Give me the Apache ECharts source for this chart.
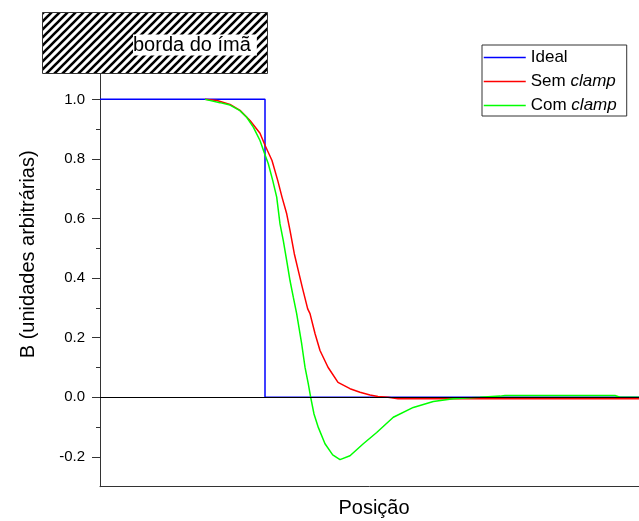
<!DOCTYPE html>
<html>
<head>
<meta charset="utf-8">
<script src="https://cdn.jsdelivr.net/npm/echarts@6/dist/echarts.min.js"></script>
<style>
html,body{margin:0;padding:0;background:#fff;}
#chart{width:639px;height:521px;}
</style>
</head>
<body>
<div id="chart"></div>
<script>
// Series names
const seriesNames = ['Ideal', 'Sem clamp', 'Com clamp'];
// Ideal step profile [position, B]
const idealData = [[0, 1.0], [165, 1.0], [165, 0.0], [539, 0.0]];
// Without clamp
const semClampData = [
  [105, 1.0], [117, 0.996], [130, 0.983], [140, 0.963], [150, 0.929], [160, 0.886],
  [165, 0.846], [172, 0.795], [177.7, 0.728], [182, 0.672], [186.7, 0.616], [190, 0.560],
  [194.3, 0.482], [198.3, 0.425], [202.3, 0.369], [207.7, 0.297], [210, 0.281],
  [215, 0.214], [220, 0.157], [228, 0.101], [238, 0.050], [250, 0.029], [260, 0.017],
  [270, 0.008], [278, 0.003], [288, 0.0], [298, -0.005], [539, -0.005]
];
// With clamp
const comClampData = [
  [105, 1.0], [120, 0.989], [130, 0.981], [140, 0.962], [146.7, 0.940], [153.3, 0.907],
  [160, 0.862], [164, 0.823], [168.3, 0.784], [172.7, 0.728], [176.7, 0.672], [180, 0.582],
  [183.3, 0.526], [186.7, 0.459], [190, 0.392], [193.3, 0.336], [195.7, 0.297],
  [196.7, 0.280], [201.7, 0.179], [205, 0.101], [208.3, 0.045], [210.7, 0.0],
  [214, -0.056], [218.3, -0.101], [225, -0.156], [232.7, -0.193], [240, -0.209],
  [250, -0.196], [263.3, -0.156], [276.7, -0.118], [293.3, -0.067], [313.3, -0.034],
  [333.3, -0.014], [353.3, -0.005], [366.7, -0.002], [380, 0.0], [400, 0.004],
  [405, 0.006], [515, 0.006], [520, 0.0], [539, 0.0]
];
// Y tick labels / ticks
const majorTicks = [-0.2, 0.0, 0.2, 0.4, 0.6, 0.8, 1.0];
const minorTicks = [-0.1, 0.1, 0.3, 0.5, 0.7, 0.9];
const xLabel = 'Posição';
const yLabel = 'B (unidades arbitrárias)';
const boxLabel = 'borda do ímã';

const FONT = '"Liberation Sans", Arial, sans-serif';

// hatch pattern
const pat = document.createElement('canvas');
pat.width = 8; pat.height = 8;
const pc = pat.getContext('2d');
pc.fillStyle = '#fff'; pc.fillRect(0, 0, 8, 8);
pc.strokeStyle = '#000'; pc.lineWidth = 2.6;
pc.beginPath();
pc.moveTo(-1, 9); pc.lineTo(9, -1);
pc.moveTo(-1, 1); pc.lineTo(1, -1);
pc.moveTo(7, 9); pc.lineTo(9, 7);
pc.stroke();

const chart = echarts.init(document.getElementById('chart'), null, {renderer: 'canvas'});
chart.setOption({
  animation: false,
  backgroundColor: '#fff',
  grid: {left: 100, right: 0, top: 21.9, bottom: 34.3, containLabel: false, outerBoundsMode: 'none'},
  legend: {
    data: seriesNames,
    orient: 'vertical',
    left: 482, top: 45,
    borderColor: '#333', borderWidth: 1,
    padding: [4, 10, 2, 1],
    itemGap: 7, itemWidth: 42, itemHeight: 14,
    itemStyle: {opacity: 0, borderWidth: 0},
    lineStyle: {width: 1.5},
    textStyle: {fontSize: 17, color: '#000', fontFamily: FONT,
      rich: {i: {fontSize: 17, fontStyle: 'italic', color: '#000', fontFamily: FONT}}},
    formatter: function (n) {
      return n.replace('clamp', '{i|clamp}');
    }
  },
  xAxis: {
    type: 'value', min: 0, max: 539,
    name: xLabel, nameLocation: 'middle', nameGap: 12,
    nameTextStyle: {fontSize: 20, color: '#000', fontFamily: FONT, padding: [0, 0, 0, 9]},
    axisLine: {onZero: false, lineStyle: {color: '#333', width: 1}},
    axisTick: {show: false}, axisLabel: {show: false}, splitLine: {show: false}
  },
  yAxis: [{
    type: 'value', min: -0.3, max: 1.26,
    name: yLabel, nameLocation: 'middle', nameGap: 62,
    nameTextStyle: {fontSize: 20, color: '#000', fontFamily: FONT},
    axisLine: {lineStyle: {color: '#333', width: 1}},
    axisTick: {show: true, length: 8, customValues: majorTicks, lineStyle: {color: '#333'}},
    axisLabel: {customValues: majorTicks, margin: 15, fontSize: 15, color: '#000', fontFamily: FONT,
      formatter: function (v) { return v.toFixed(1); }},
    splitLine: {show: false}
  }, {
    type: 'value', min: -0.3, max: 1.26, position: 'left', offset: 0,
    axisLine: {show: false},
    axisTick: {show: true, length: 4, customValues: minorTicks, lineStyle: {color: '#333'}},
    axisLabel: {show: false},
    splitLine: {show: false}
  }],
  graphic: [{
    type: 'rect', z: 100, silent: true,
    shape: {x: 42.5, y: 12.5, width: 225, height: 61},
    style: {fill: {image: pat, repeat: 'repeat'}, stroke: '#333', lineWidth: 1}
  }, {
    type: 'text', z: 101, silent: true,
    x: 133, y: 45,
    style: {text: boxLabel, font: '20px ' + FONT, fill: '#000',
      verticalAlign: 'middle', align: 'left',
      backgroundColor: '#fff', padding: [1, 6, 0, 0]}
  }],
  series: [{
    name: 'zero', type: 'line', data: [], z: 1, silent: true,
    markLine: {silent: true, symbol: 'none', label: {show: false},
      lineStyle: {color: '#000', type: 'solid', width: 1},
      data: [{yAxis: 0}]}
  }, {
    name: seriesNames[0], type: 'line', data: idealData, symbol: 'none', z: 2,
    color: '#0000ff', lineStyle: {color: '#0000ff', width: 1.5}
  }, {
    name: seriesNames[1], type: 'line', data: semClampData, symbol: 'none', z: 3,
    color: '#ff0000', lineStyle: {color: '#ff0000', width: 1.5}
  }, {
    name: seriesNames[2], type: 'line', data: comClampData, symbol: 'none', z: 4,
    color: '#00ff00', lineStyle: {color: '#00ff00', width: 1.5}
  }]
});
</script>
</body>
</html>
